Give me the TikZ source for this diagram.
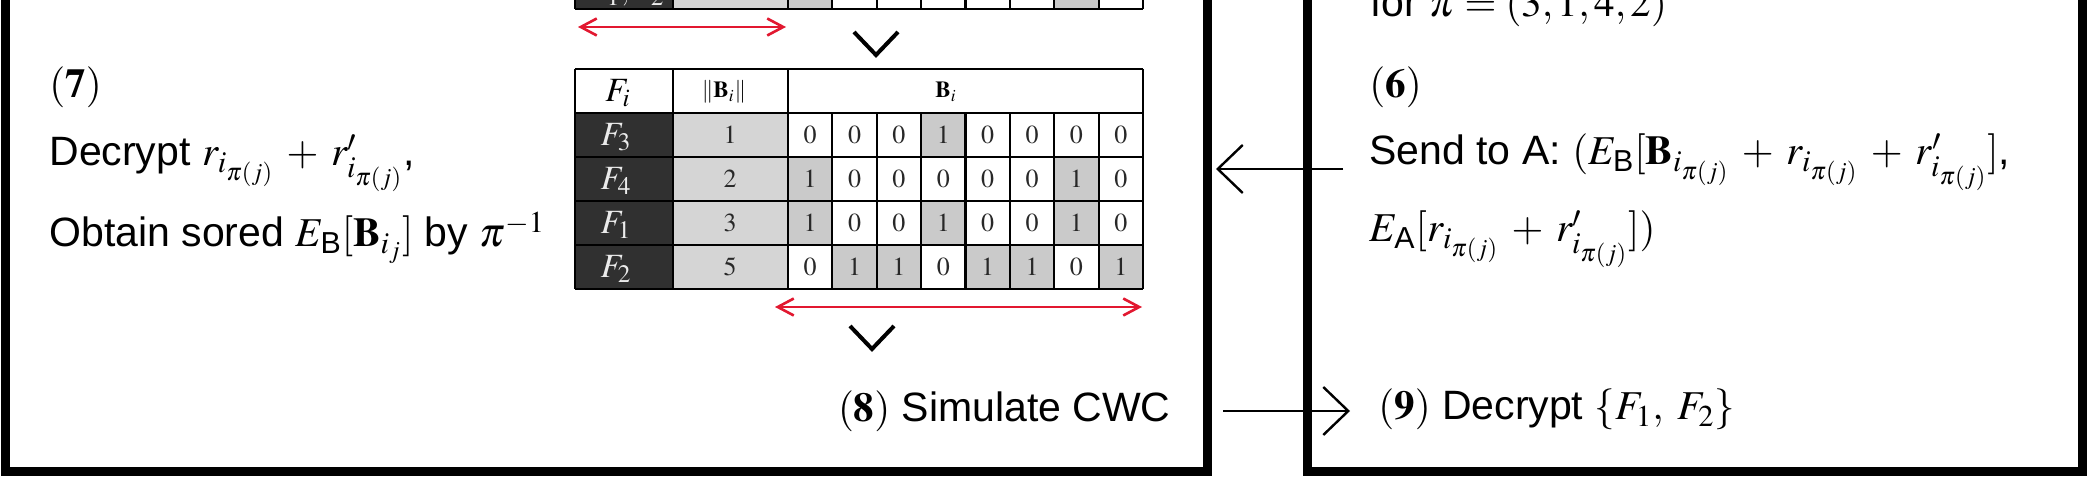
\documentclass[tikz,border=0pt]{standalone}
\usepackage{amsmath}
\usepackage{mathptmx}
\usepackage[no-math]{fontspec}
\setmainfont{Liberation Sans}
\usetikzlibrary{arrows.meta}
\medmuskip=5.5mu plus 2mu minus 2mu\relax
\definecolor{darkcell}{RGB}{48,48,48}
\definecolor{lightcell}{RGB}{213,213,213}
\definecolor{bitgray}{RGB}{202,202,202}
\definecolor{redarrow}{RGB}{226,24,48}
\definecolor{celltext}{RGB}{40,40,40}
\definecolor{flabel}{RGB}{235,235,235}
\tikzset{
  txt/.style={inner sep=0pt, font=\fontsize{20.5}{24.6}\selectfont},
  frame/.style={line width=4.5pt, line join=miter},
  grid/.style={line width=1.1pt, black},
  openarrow/.style={line width=1.1pt, -{Straight Barb[length=12.5pt,width=24pt,line width=1.2pt]}},
  redarr/.style={line width=1.3pt, redarrow, {Straight Barb[length=8pt,width=8.5pt]}-{Straight Barb[length=8pt,width=8.5pt]}},
  chevron/.style={line width=2pt, line join=miter},
  flab/.style={inner sep=0pt, text=flabel, font=\fontsize{17}{20}\selectfont},
  hlab/.style={inner sep=0pt, font=\fontsize{17}{20}\selectfont},
  smallhead/.style={inner sep=0pt, font=\fontsize{11.5}{14}\selectfont},
  bittxt/.style={inner sep=0pt, text=celltext, font=\fontsize{13}{15}\selectfont}
}
\begin{document}
\begin{tikzpicture}[x=0.5pt,y=-0.5pt]
\useasboundingbox (0,0) rectangle (2089,480);
\fill[white] (0,0) rectangle (2089,480);
\clip (0,0) rectangle (2089,480);

% ---------- outer frames ----------
\draw[frame] (5.5,-60) -- (5.5,472) -- (1207,472) -- (1207,-60);
\draw[frame] (1307.5,-60) -- (1307.5,472) -- (2082.5,472) -- (2082.5,-60);

% ---------- top table (last row only visible) ----------
\fill[darkcell] (575,-36) rectangle (673,9);
\fill[lightcell] (673,-36) rectangle (788,9);
\foreach \c in {1,7} {
  \fill[bitgray] ({788+44.375*(\c-1)},-36) rectangle ({788+44.375*\c},9);
}
\draw[grid] (575,9) -- (1143,9);
\foreach \xx in {575,673,788} { \draw[grid] (\xx,-36) -- (\xx,9); }
\foreach \c in {1,...,8} { \draw[grid] ({788+44.375*\c},-36) -- ({788+44.375*\c},9); }
\node[flab, anchor=base] (topF) at (627,0) {$F_1, F_2$};

% red arrow and chevron below top table
\coordinate (ra1) at (578,27);
\coordinate (ra2) at (786,27);
\draw[redarr] (ra1) -- (ra2);
\coordinate (v1a) at (854,32);
\coordinate (v1b) at (876,55);
\coordinate (v1c) at (898,32);
\draw[chevron] (v1a) -- (v1b) -- (v1c);

% ---------- main table ----------
\fill[darkcell] (575,113) rectangle (673,289);
\fill[lightcell] (673,113) rectangle (788,289);
\foreach \lab/\n/\bits [count=\r] in {{F_3}/1/{0,0,0,1,0,0,0,0},{F_4}/2/{1,0,0,0,0,0,1,0},{F_1}/3/{1,0,0,1,0,0,1,0},{F_2}/5/{0,1,1,0,1,1,0,1}} {
  \foreach \b [count=\c] in \bits {
    \ifnum\b=1
      \fill[bitgray] ({788+44.375*(\c-1)},{113+44*(\r-1)}) rectangle ({788+44.375*\c},{113+44*\r});
    \fi
  }
}
\foreach \yy in {69,113,157,201,245,289} { \draw[grid] (575,\yy) -- (1143,\yy); }
\foreach \xx in {575,673,788,1143} { \draw[grid] (\xx,69) -- (\xx,289); }
\foreach \c in {1,...,7} { \draw[grid] ({788+44.375*\c},113) -- ({788+44.375*\c},289); }
% header
\node[hlab] (hF) at (618,93) {$F_i$};
\node[smallhead] (hN) at (724,92) {$\|\mathbf{B}_i\|$};
\node[smallhead] (hB) at (946,92) {$\mathbf{B}_i$};
% body texts
\foreach \lab/\n/\bits [count=\r] in {{F_3}/1/{0,0,0,1,0,0,0,0},{F_4}/2/{1,0,0,0,0,0,1,0},{F_1}/3/{1,0,0,1,0,0,1,0},{F_2}/5/{0,1,1,0,1,1,0,1}} {
  \node[flab] (f\r) at (616,{137+44*(\r-1)}) {$\lab$};
  \node[bittxt] (n\r) at (730,{135+44*(\r-1)}) {$\n$};
  \foreach \b [count=\c] in \bits {
    \node[bittxt] (b\r-\c) at ({788+44.375*(\c-0.5)},{135+44*(\r-1)}) {$\b$};
  }
}
% red arrow and chevron below main table
\coordinate (rb1) at (775,307);
\coordinate (rb2) at (1142,307);
\draw[redarr] (rb1) -- (rb2);
\coordinate (v2a) at (850,326);
\coordinate (v2b) at (872,349);
\coordinate (v2c) at (894,326);
\draw[chevron] (v2a) -- (v2b) -- (v2c);

% ---------- left box texts ----------
\node[txt, anchor=base west] (s7) at (49,98) {$(\mathbf{7})$};
\node[txt, anchor=base west] (s7a) at (49,166) {Decrypt $r_{i_{\pi(j)}} + r'_{i_{\pi(j)}}$,};
\node[txt, anchor=base west] (s7b) at (49,247) {Obtain sored $E_{\text{B}}[\mathbf{B}_{i_j}]$ by $\pi^{-1}$};
\node[txt, anchor=base east] (s8) at (1171,422) {$(\mathbf{8})$ Simulate CWC};

% ---------- right box texts ----------
\node[txt, anchor=base west] (s5) at (1370,17) {for $\pi = (3,1,4,2)$};
\node[txt, anchor=base west] (s6) at (1369,98) {$(\mathbf{6})$};
\node[txt, anchor=base west] (s6a) at (1369,165) {Send to A: $(E_{\text{B}}[\mathbf{B}_{i_{\pi(j)}} + r_{i_{\pi(j)}} + r'_{i_{\pi(j)}}]$,};
\node[txt, anchor=base west] (s6b) at (1369,242) {$E_{\text{A}}[r_{i_{\pi(j)}} + r'_{i_{\pi(j)}}])$};
\node[txt, anchor=base west] (s9) at (1378,420) {$(\mathbf{9})$ Decrypt $\{F_1,\; F_2\}$};

% ---------- connectors between boxes ----------
\coordinate (l6a) at (1343,169);
\coordinate (l6b) at (1216,169);
\draw[openarrow] (l6a) -- (l6b);
\coordinate (l8a) at (1223,411);
\coordinate (l8b) at (1350,411);
\draw[openarrow] (l8a) -- (l8b);
\end{tikzpicture}
\end{document}
